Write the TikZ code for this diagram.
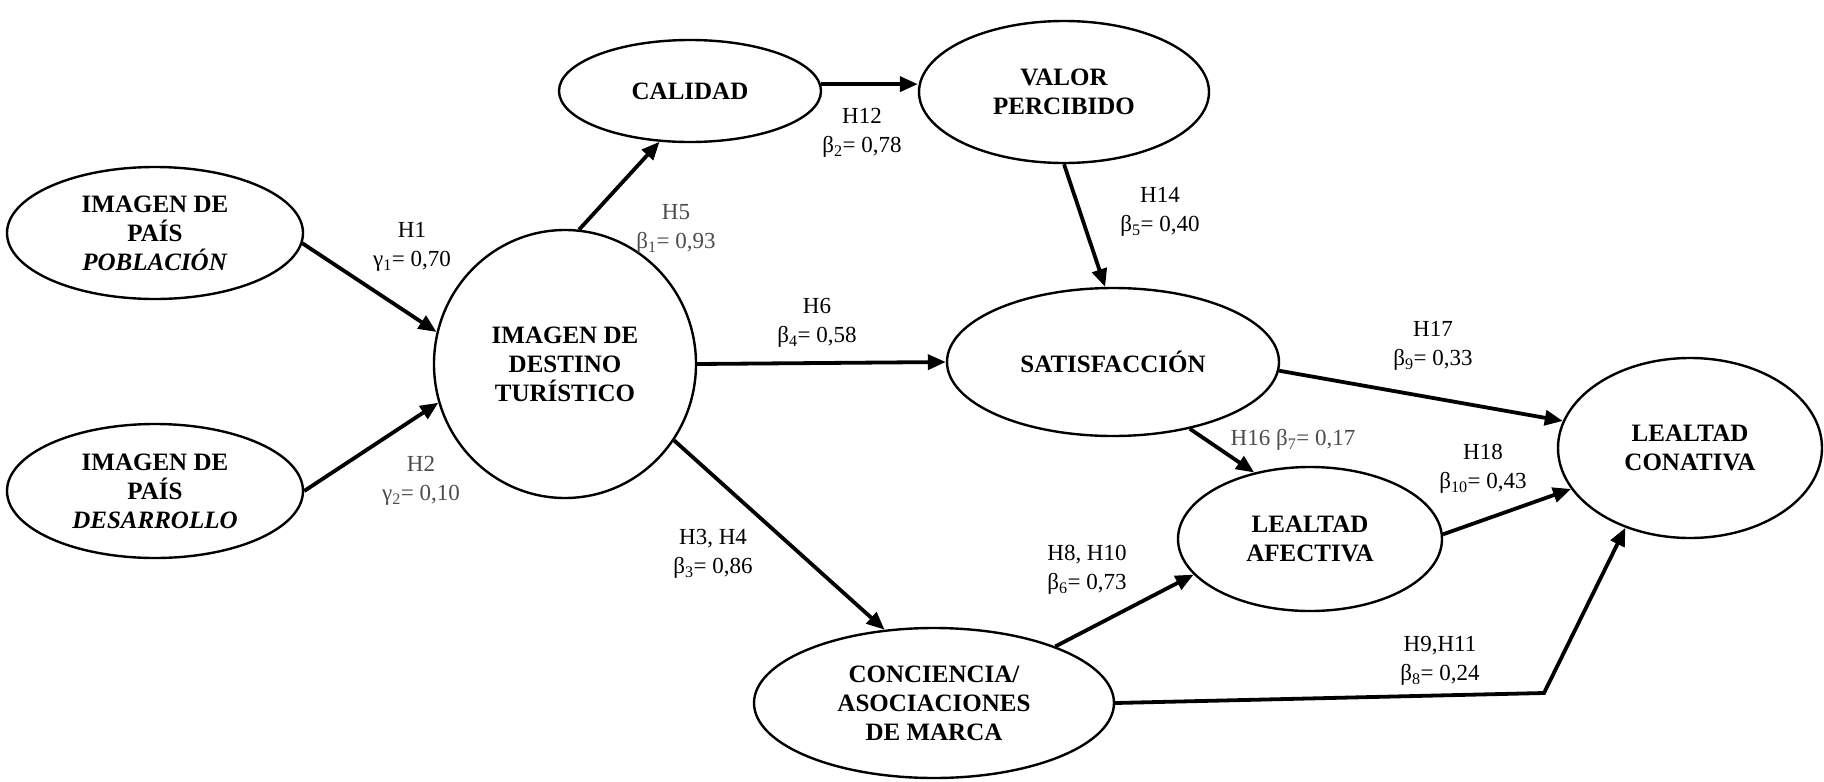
\documentclass[tikz,border=0pt]{standalone}
\usepackage{fontspec}
\setmainfont{Liberation Serif}
\usetikzlibrary{arrows.meta,shapes.geometric}
\begin{document}
\begin{tikzpicture}[x=1pt,y=-1pt,
  construct/.style={draw,line width=2.4pt,ellipse,inner sep=0pt,align=center,
    font=\fontsize{25}{29}\selectfont\bfseries},
  path/.style={line width=3.8pt,-{Triangle[length=18pt,width=15pt]}},
  darklbl/.style={align=center,inner sep=0pt,text=black,font=\fontsize{23}{29}\selectfont},
  lightlbl/.style={align=center,inner sep=0pt,text=black!70,font=\fontsize{23}{29}\selectfont},
]
\useasboundingbox (0,0) rectangle (1824,782);

% constructs
\node[construct,minimum width=296pt,minimum height=132pt] (pob) at (155,233)
  {IMAGEN DE\\PAÍS\\\textit{POBLACIÓN}};
\node[construct,minimum width=296pt,minimum height=134pt] (des) at (155,491)
  {IMAGEN DE\\PAÍS\\\textit{DESARROLLO}};
\node[construct,minimum width=262pt,minimum height=268pt] (dest) at (565,364)
  {IMAGEN DE\\DESTINO\\TURÍSTICO};
\node[construct,minimum width=262pt,minimum height=102pt] (cal) at (690,91) {CALIDAD};
\node[construct,minimum width=290pt,minimum height=142pt] (val) at (1064,92)
  {VALOR\\PERCIBIDO};
\node[construct,minimum width=332pt,minimum height=148pt] (sat) at (1113,362) {SATISFACCIÓN};
\node[construct,minimum width=264pt,minimum height=180pt] (con) at (1690,448)
  {LEALTAD\\CONATIVA};
\node[construct,minimum width=264pt,minimum height=144pt] (afe) at (1310,539)
  {LEALTAD\\AFECTIVA};
\node[construct,minimum width=360pt,minimum height=150pt] (conc) at (934,703)
  {CONCIENCIA/\\ASOCIACIONES\\DE MARCA};

% structural paths
\draw[path] (pob.-4) -- (dest.166);
\draw[path] (des.0) -- (dest.197);
\draw[path] (dest.84) -- (cal.239);
\draw[path] (cal.3) -- (cal.3 -| val.west);
\draw[path] (dest.east) -- (sat.west);
\draw[path] (val.south) -- (sat.96);
\draw[path] (dest.-35) -- (conc.124);
\draw[path] (sat.-3) -- (con.168);
\draw[path] (sat.-41) -- (afe.130);
\draw[path] (afe.2) -- (con.199);
\draw[path] (conc.25) -- (afe.197);
\coordinate (bend) at (1544,693);
\draw[path] (conc.east) -- (bend) -- (con.231);

% coefficients
\node[darklbl] (l1) at (412,247) {H1\\γ\textsubscript{1}= 0,70};
\node[lightlbl] (l2) at (421,481) {H2\\γ\textsubscript{2}= 0,10};
\node[lightlbl] (l5) at (676,229) {H5\\β\textsubscript{1}= 0,93};
\node[darklbl] (l12) at (862,133) {H12\\β\textsubscript{2}= 0,78};
\node[darklbl] (l14) at (1160,212) {H14\\β\textsubscript{5}= 0,40};
\node[darklbl] (l6) at (817,323) {H6\\β\textsubscript{4}= 0,58};
\node[darklbl] (l17) at (1433,346) {H17\\β\textsubscript{9}= 0,33};
\node[lightlbl] (l16) at (1293,440) {H16 β\textsubscript{7}= 0,17};
\node[darklbl] (l18) at (1483,469) {H18\\β\textsubscript{10}= 0,43};
\node[darklbl] (l34) at (713,554) {H3, H4\\β\textsubscript{3}= 0,86};
\node[darklbl] (l810) at (1087,570) {H8, H10\\β\textsubscript{6}= 0,73};
\node[darklbl] (l911) at (1440,661) {H9,H11\\β\textsubscript{8}= 0,24};
\end{tikzpicture}
\end{document}
